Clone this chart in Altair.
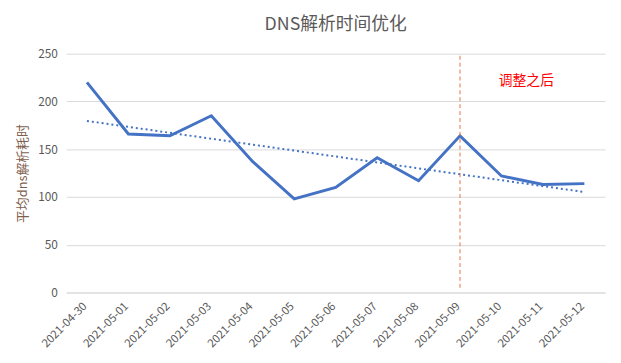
import altair as alt
import pandas as pd

dates = ["2021-04-30", "2021-05-01", "2021-05-02", "2021-05-03", "2021-05-04",
         "2021-05-05", "2021-05-06", "2021-05-07", "2021-05-08", "2021-05-09",
         "2021-05-10", "2021-05-11", "2021-05-12"]
values = [220, 166, 164, 185, 137, 98, 110, 141, 117, 164, 122, 113, 114]
y_ticks = [0, 50, 100, 150, 200, 250]

marker_date = "2021-05-09"
marker_y = [5, 250]
annotation_text = "调整之后"
annotation_x = 10.6
annotation_y = 221

FONT = "Noto Sans CJK SC"

df = pd.DataFrame({"idx": list(range(len(dates))), "date": dates, "value": values})
label_expr = "[" + ",".join("'%s'" % d for d in dates) + "][datum.value]"

x_enc = alt.X(
    "idx:Q",
    scale=alt.Scale(domain=[-0.5, len(dates) - 0.5], nice=False, zero=False),
    axis=alt.Axis(
        values=list(range(len(dates))), labelExpr=label_expr, title=None,
        labelAngle=-45, labelAlign="right", labelBaseline="middle",
        labelPadding=12, labelOffset=-2, ticks=False, grid=False, domain=True,
        domainColor="#D9D9D9", labelColor="#595959", labelFontSize=11.5,
        labelFont=FONT, labelOverlap=False,
    ),
)
y_enc = alt.Y(
    "value:Q",
    scale=alt.Scale(domain=[0, 250], nice=False),
    axis=alt.Axis(
        values=y_ticks, title="平均dns解析耗时", titleColor="#7f5f4f",
        titleFontSize=13, titleFontWeight="normal", titleFont=FONT,
        titlePadding=8, labelColor="#595959", labelFontSize=12, labelFont=FONT,
        labelPadding=9, ticks=False, domain=False, gridColor="#D9D9D9",
    ),
)

base = alt.Chart(df)

line = base.mark_line(color="#4472C4", strokeWidth=3).encode(x=x_enc, y=y_enc)

trend = base.transform_regression("idx", "value").mark_line(
    color="#4472C4", strokeWidth=2, strokeDash=[2, 3]
).encode(x="idx:Q", y="value:Q")

marker_df = pd.DataFrame({"idx": [dates.index(marker_date)], "y1": [marker_y[0]], "y2": [marker_y[1]]})
rule = alt.Chart(marker_df).mark_rule(color="#E8743B", strokeWidth=1, strokeDash=[4, 3]).encode(
    x="idx:Q", y="y1:Q", y2="y2:Q"
)

ann_df = pd.DataFrame({"idx": [annotation_x], "value": [annotation_y], "t": [annotation_text]})
ann = alt.Chart(ann_df).mark_text(color="#FF0000", fontSize=14, font=FONT, align="center", baseline="middle").encode(
    x="idx:Q", y="value:Q", text="t:N"
)

chart = alt.layer(line, trend, rule, ann).properties(
    width=546, height=242,
    title=alt.TitleParams("DNS解析时间优化", fontSize=18, font=FONT, color="#595959",
                          fontWeight="normal", anchor="middle", offset=14),
    autosize=alt.AutoSizeParams(type="none"),
    padding={"left": 59, "top": 44, "right": 8, "bottom": 60},
).configure_view(stroke=None)

chart.save("out.html", embed_options={"renderer": "svg", "actions": False})
